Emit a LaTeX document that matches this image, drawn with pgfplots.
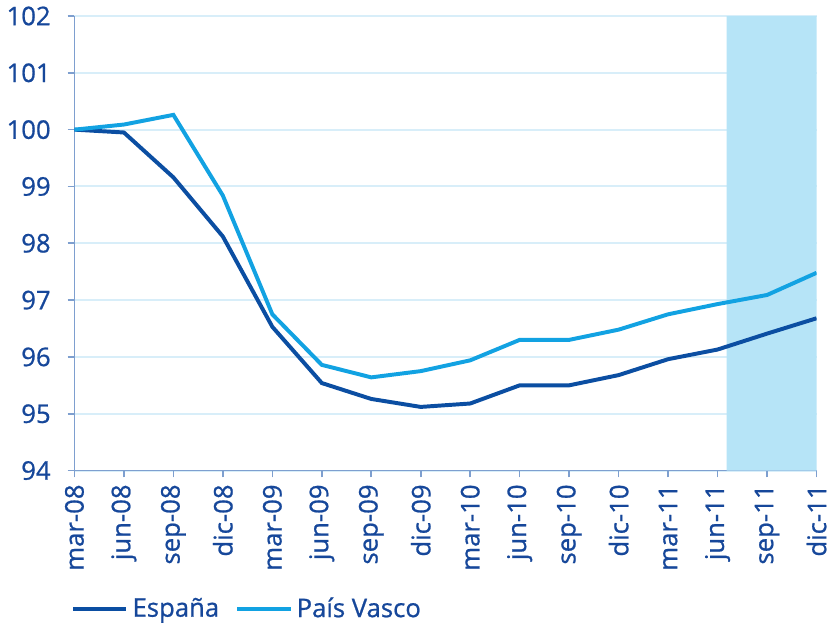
\documentclass[border=0pt]{standalone}
\usepackage{fontspec}
\setmainfont{Open Sans}
\newfontfamily\chartfont[FakeBold=0.8]{Open Sans}
\usepackage{pgfplots}
\pgfplotsset{compat=1.18}
\definecolor{espana}{HTML}{0B4EA2}
\definecolor{vasco}{HTML}{12A2E2}
\definecolor{shade}{HTML}{B6E4F7}
\definecolor{txt}{HTML}{16479A}
\definecolor{axln}{HTML}{7E9FCF}
\definecolor{grd}{HTML}{D8EEF9}

\begin{document}
\begin{tikzpicture}
\begin{axis}[
scale only axis,
width=375.5pt, height=230pt,
xmin=0, xmax=15,
ymin=94, ymax=102,
ytick={94,95,...,102},
xtick={0,...,15},
xticklabels={mar-08,jun-08,sep-08,dic-08,mar-09,jun-09,sep-09,dic-09,mar-10,jun-10,sep-10,dic-10,mar-11,jun-11,sep-11,dic-11},
axis lines=left,
axis line style={-, axln, line width=0.8pt},
tick style={axln, line width=0.8pt},
tick align=outside,
major tick length=3.5pt,
ymajorgrids,
grid style={grd, line width=1pt},
tick label style={font=\chartfont\fontsize{13}{13}\selectfont, text=txt},
/pgf/number format/assume math mode=true,
yticklabel style={xshift=-5pt},
x tick label style={rotate=90, anchor=east},
legend style={at={(axis description cs:0,0)}, anchor=north west, yshift=-60pt, xshift=-5pt,
  draw=none, fill=none, font=\chartfont\fontsize{13}{13}\selectfont, text=txt,
  /tikz/every even column/.append style={column sep=6pt}},
legend columns=2,
legend image code/.code={\draw[#1, line width=2.2pt] (0pt,0pt) -- (27pt,0pt);},
]
\addplot[draw=none, fill=shade, forget plot] coordinates {(13.18,94) (15,94) (15,102.05) (13.18,102.05)} \closedcycle;
\addplot[espana, line width=2pt] coordinates {
(0,100) (1,99.95) (2,99.16) (3,98.12) (4,96.53) (5,95.54) (6,95.26) (7,95.12)
(8,95.18) (9,95.50) (10,95.50) (11,95.68) (12,95.96) (13,96.13) (14,96.41) (15,96.68)};
\addlegendentry{España}
\addplot[vasco, line width=2pt] coordinates {
(0,100) (1,100.09) (2,100.26) (3,98.84) (4,96.75) (5,95.86) (6,95.64) (7,95.75)
(8,95.94) (9,96.30) (10,96.30) (11,96.48) (12,96.75) (13,96.93) (14,97.09) (15,97.48)};
\addlegendentry{País Vasco}
\end{axis}
\path ([xshift=-35.5pt, yshift=-74pt]current axis.south west) rectangle ([xshift=5.5pt, yshift=7.5pt]current axis.north east);
\end{tikzpicture}
\end{document}
